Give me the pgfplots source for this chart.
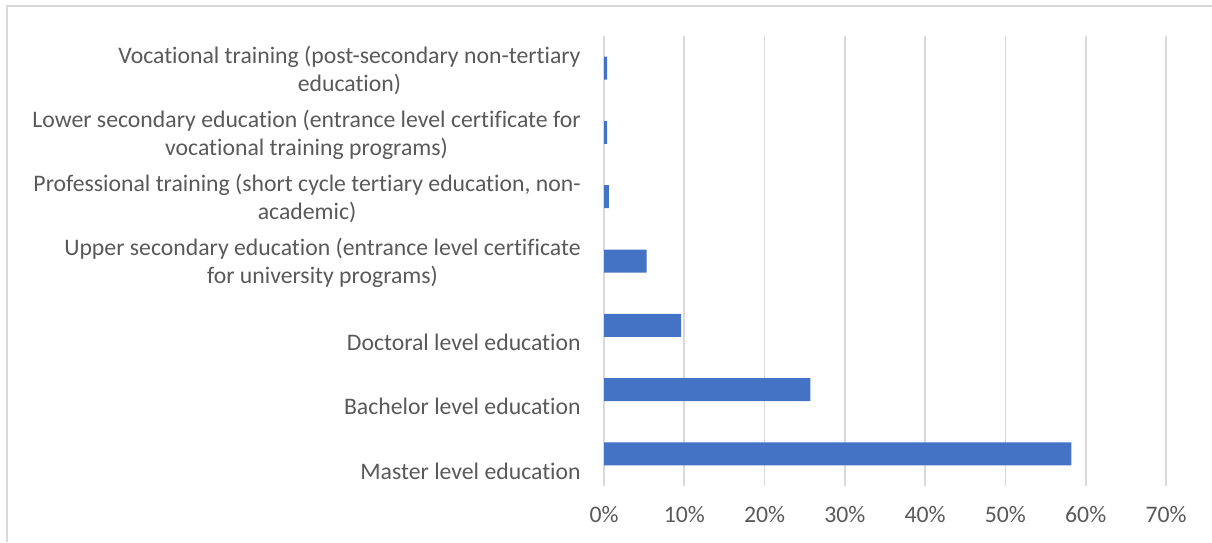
\documentclass[border=0pt]{standalone}
\usepackage{pgfplots}
\pgfplotsset{compat=1.18}
\usepackage{fontspec}
\setmainfont{Carlito}[RawFeature={-liga}]
\definecolor{barblue}{HTML}{4472C4}
\definecolor{gridgray}{HTML}{D9D9D9}
\definecolor{txtgray}{HTML}{595959}
\newcommand{\low}[1]{\raisebox{-11.25pt}[\height][\depth]{#1}}
\begin{document}
\begin{tikzpicture}
\path[use as bounding box] (0,0) rectangle (909pt,406.5pt);
\draw[gridgray, line width=1pt] (5.25pt,0) -- (5.25pt,402pt) -- (909pt,402pt);
\begin{axis}[
  at={(453pt,42pt)}, anchor=south west,
  scale only axis, width=421.5pt, height=337.5pt,
  xbar, bar width=17.25pt,
  xmin=0, xmax=70, ymin=-0.5, ymax=6.5,
  xtick={0,10,...,70},
  xticklabels={0\%,10\%,20\%,30\%,40\%,50\%,60\%,70\%},
  ytick={0,...,6},
  yticklabels={
    \low{Master level education},
    \low{Bachelor level education},
    \low{Doctoral level education},
    {Upper secondary education (entrance level certificate\\for university programs)},
    {Professional training (short cycle tertiary education, non-\\academic)},
    {Lower secondary education (entrance level certificate for\\vocational training programs)},
    {Vocational training (post-secondary non-tertiary\\education)}
  },
  axis line style={draw=none},
  major tick length=0pt,
  tick style={draw=none},
  xmajorgrids,
  major grid style={gridgray, line width=1.2pt},
  yticklabel style={font=\fontsize{17.8}{21}\selectfont, text=txtgray, align=center, xshift=-14pt, yshift=-1.5pt},
  xticklabel style={font=\fontsize{17.8}{21}\selectfont, text=txtgray, yshift=-12pt},
]
\addplot[fill=barblue, draw=none] coordinates {(58.2,0) (25.7,1) (9.6,2) (5.3,3) (0.6,4) (0.4,5) (0.4,6)};
\end{axis}
\end{tikzpicture}
\end{document}
